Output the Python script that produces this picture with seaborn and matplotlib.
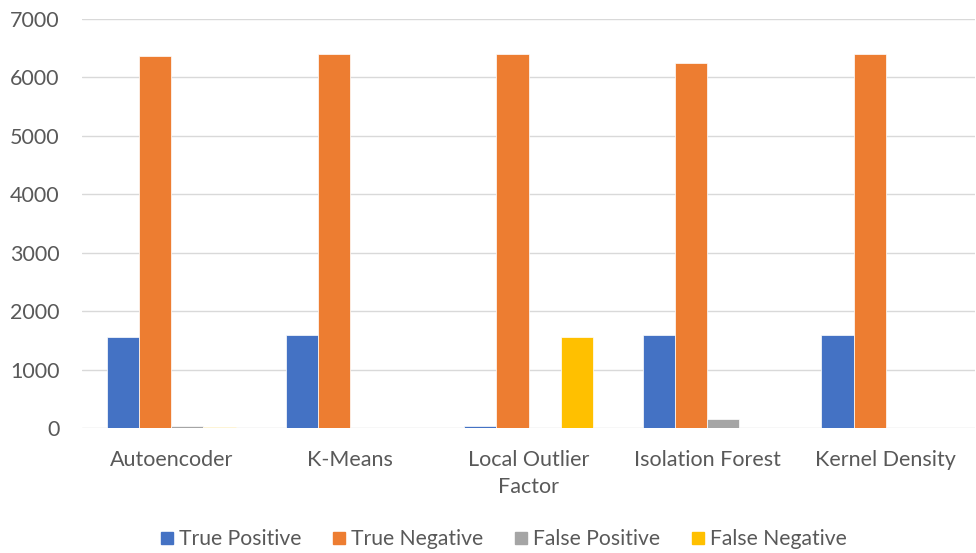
import matplotlib
matplotlib.use("Agg")
import matplotlib.pyplot as plt
from matplotlib.lines import Line2D
import seaborn as sns
import pandas as pd

# Detection results per method
methods = ["Autoencoder", "K-Means", "Local Outlier\nFactor", "Isolation Forest", "Kernel Density"]
outcomes = ["True Positive", "True Negative", "False Positive", "False Negative"]
true_positive = [1566, 1592, 42, 1597, 1597]
true_negative = [6367, 6400, 6400, 6247, 6400]
false_positive = [30, 0, 0, 154, 0]
false_negative = [25, 0, 1552, 0, 0]
yticks = [0, 1000, 2000, 3000, 4000, 5000, 6000, 7000]
colors = ["#4472C4", "#ED7D31", "#A5A5A5", "#FFC000"]

rows = []
for series_name, values in zip(outcomes, [true_positive, true_negative, false_positive, false_negative]):
    for m, v in zip(methods, values):
        rows.append({"Method": m, "Outcome": series_name, "Count": v})
df = pd.DataFrame(rows)

sns.set_theme(style="white")
plt.rcParams["font.family"] = ["Lato", "DejaVu Sans"]
text_color = "#595959"

fig = plt.figure(figsize=(9.76, 5.53), dpi=100)
ax = fig.add_axes([0.084, 0.226, 0.915, 0.7395])

sns.barplot(data=df, x="Method", y="Count", hue="Outcome", order=methods,
            hue_order=outcomes, palette=colors, width=0.72, gap=0,
            edgecolor="white", linewidth=0.5, saturation=1, ax=ax, legend=False)

ax.set_ylim(0, 7000)
ax.set_yticks(yticks)
ax.set_yticklabels([str(t) for t in yticks])
ax.set_xlim(-0.5, 4.5)
ax.set_xlabel("")
ax.set_ylabel("")
ax.yaxis.grid(True, color="#D9D9D9", linewidth=1.0)
ax.set_axisbelow(True)
for s in ax.spines.values():
    s.set_visible(False)
ax.tick_params(axis="both", length=0, colors=text_color, labelsize=15.5)
ax.tick_params(axis="y", pad=16)
ax.tick_params(axis="x", pad=16)
for lbl in ax.get_xticklabels():
    lbl.set_color(text_color)
    lbl.set_linespacing(1.45)
for lbl in ax.get_yticklabels():
    lbl.set_color(text_color)

handles = [Line2D([0], [0], marker="s", linestyle="", markersize=8.5,
                  markerfacecolor=c, markeredgecolor=c) for c in colors]
fig.legend(handles, outcomes, loc="center", bbox_to_anchor=(0.515, 0.025), ncol=4,
           frameon=False, fontsize=15.2, labelcolor=text_color,
           handletextpad=0.15, columnspacing=1.4, handlelength=0.8)

fig.savefig("out.png", dpi=100)
